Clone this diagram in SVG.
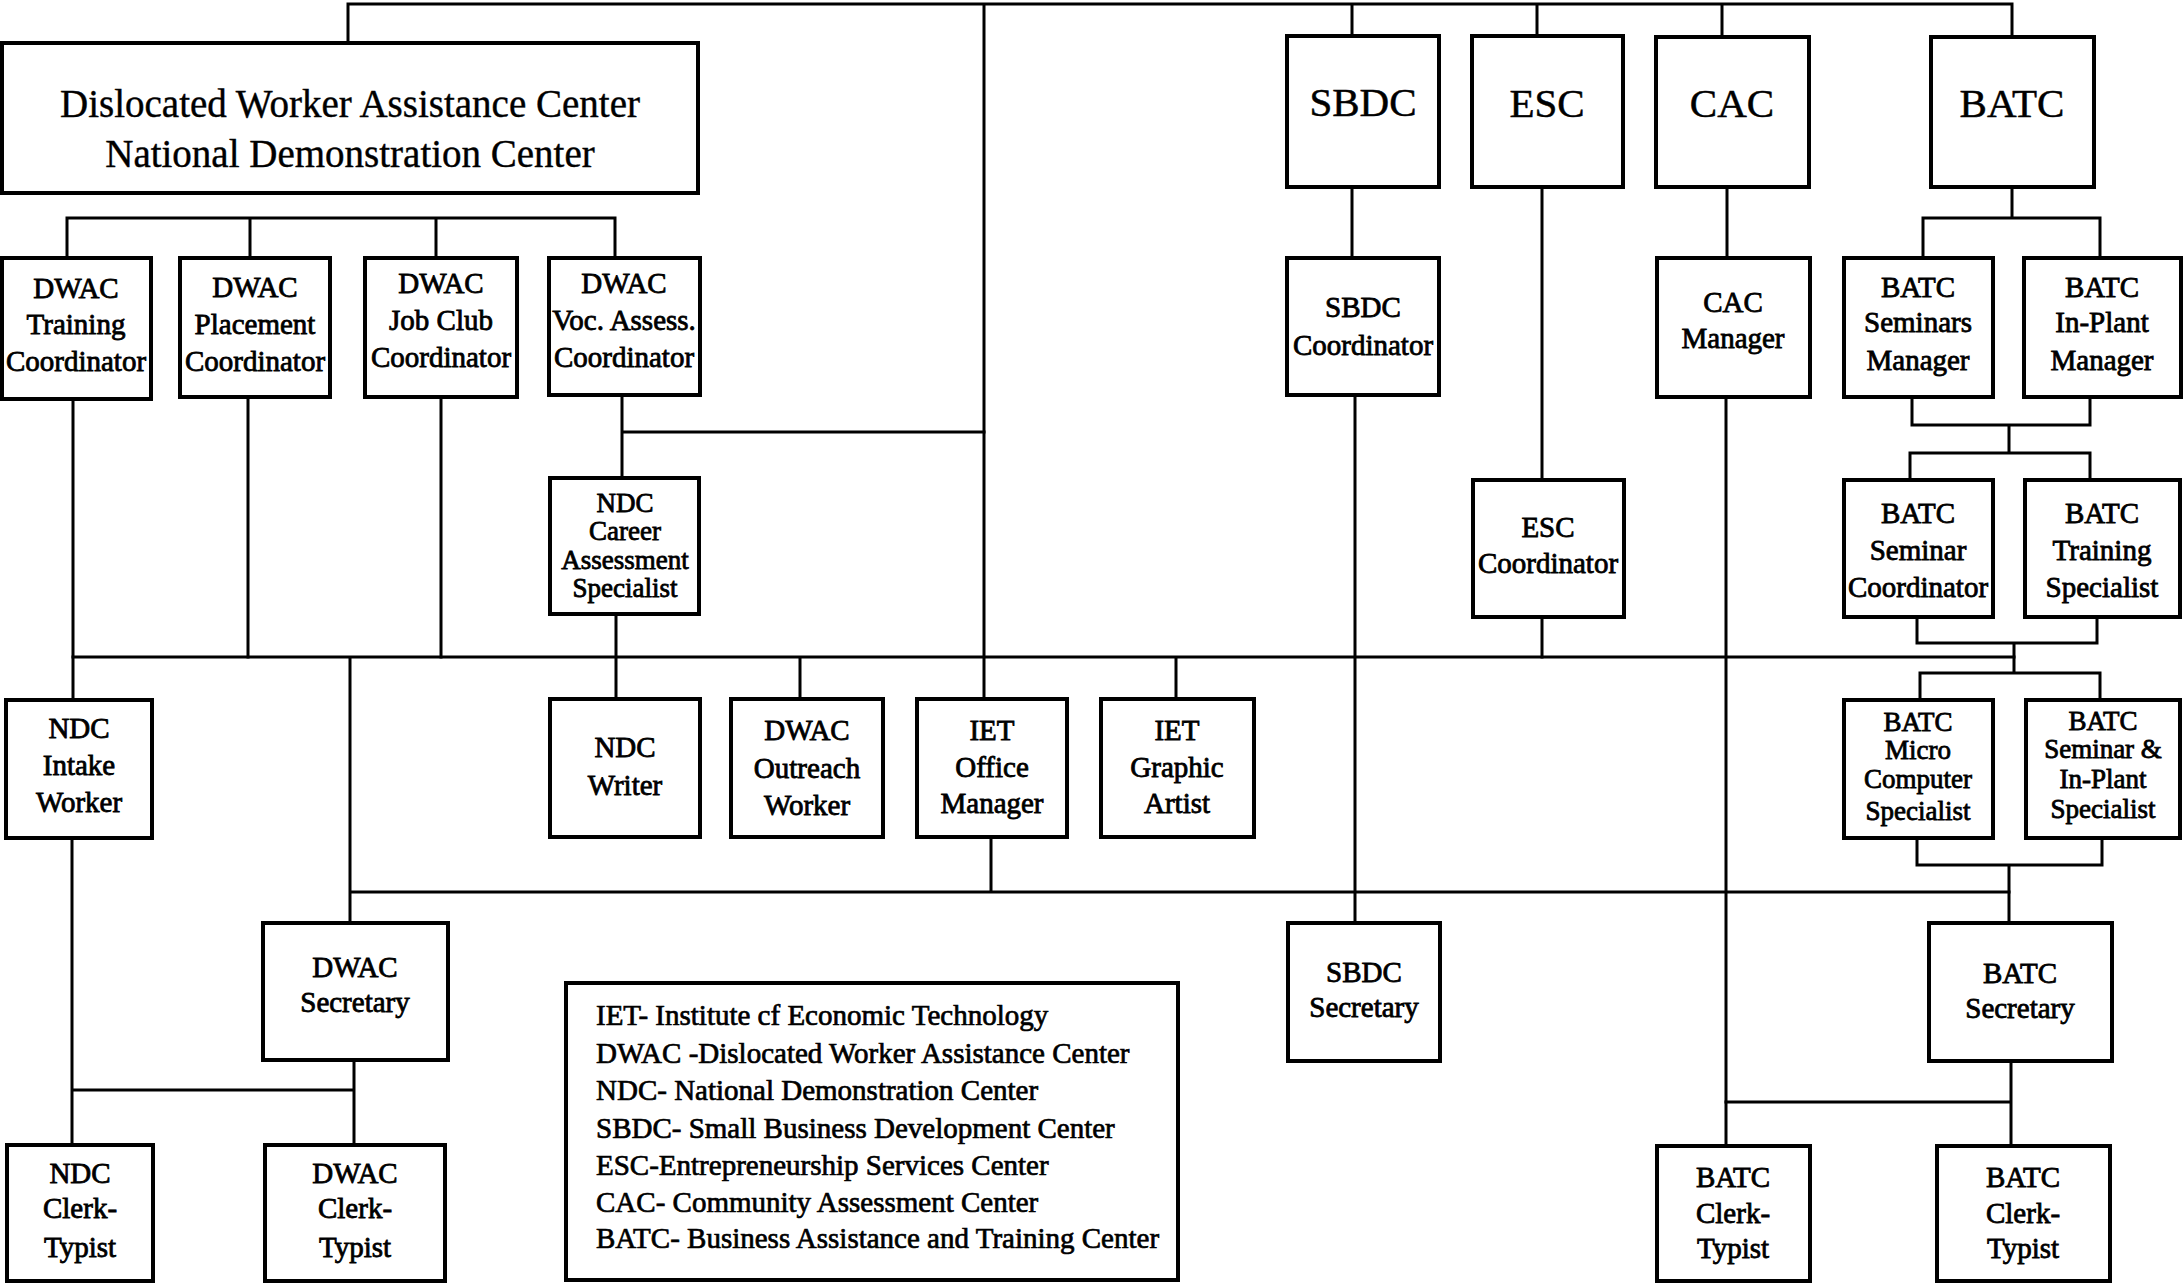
<svg xmlns="http://www.w3.org/2000/svg" width="2184" height="1283" viewBox="0 0 2184 1283">
<style>
.b{fill:#fff;stroke:#000;stroke-width:4}
.c{fill:none;stroke:#000;stroke-width:3;stroke-linecap:square}
text{font-family:"Liberation Serif","Times New Roman",serif;fill:#000}
.t{font-size:29px;text-anchor:middle;stroke:#000;stroke-width:0.8}
.s{font-size:27px}
.L{font-size:41px;text-anchor:middle;stroke:#000;stroke-width:0.5}
.T{font-size:39px;text-anchor:middle;stroke:#000;stroke-width:0.4}
.g{font-size:29px;stroke:#000;stroke-width:0.7}
</style>
<rect width="2184" height="1283" fill="#fff"/>
<g id="connectors" class="c">
<path d="M348 4H2012M348 4V43M984 4V699M1352 4V36M1537 4V36M1722 4V37M2012 4V37"/>
<path d="M67 218H615M67 218V258M250 218V258M436 218V258M615 218V258"/>
<path d="M73 399V700M248 397V657M441 397V657M622 395V478M622 432H984M616 614V699"/>
<path d="M73 657H2014M800 657V699M1176 657V699M350 657V923M991 837V892M350 892H2009"/>
<path d="M1352 187V258M1355 395V923M1542 187V480M1542 617V657M1727 187V258M1726 397V1146"/>
<path d="M2012 187V218M1923 218H2100M1923 218V258M2100 218V258"/>
<path d="M1912 397V425M2090 397V425M1912 425H2090M2009 425V453M1910 453H2090M1910 453V480M2090 453V480"/>
<path d="M1917 617V643M2097 617V643M1917 643H2097M2014 643V673M1920 673H2100M1920 673V700M2100 673V700"/>
<path d="M1917 838V865M2102 838V865M1917 865H2102M2009 865V923M2011 1061V1146M1726 1102H2011"/>
<path d="M72 838V1145M73 1090H354M354 1060V1145"/>
</g>
<g id="n-dwac-ndc"><rect class="b" x="2" y="43" width="696" height="150"/><text class="T" x="350" y="117">Dislocated Worker Assistance Center</text><text class="T" x="350" y="167">National Demonstration Center</text></g>
<g id="n-sbdc"><rect class="b" x="1287" y="36" width="152" height="151"/><text class="L" x="1363" y="116">SBDC</text></g>
<g id="n-esc"><rect class="b" x="1472" y="36" width="151" height="151"/><text class="L" x="1547" y="117">ESC</text></g>
<g id="n-cac"><rect class="b" x="1656" y="37" width="153" height="150"/><text class="L" x="1732" y="117">CAC</text></g>
<g id="n-batc"><rect class="b" x="1931" y="37" width="163" height="150"/><text class="L" x="2012" y="117">BATC</text></g>
<g id="n-training"><rect class="b" x="2" y="258" width="149" height="141"/><text class="t" x="76" y="298">DWAC</text><text class="t" x="76" y="334">Training</text><text class="t" x="76" y="371">Coordinator</text></g>
<g id="n-placement"><rect class="b" x="180" y="258" width="150" height="139"/><text class="t" x="255" y="297">DWAC</text><text class="t" x="255" y="334">Placement</text><text class="t" x="255" y="371">Coordinator</text></g>
<g id="n-jobclub"><rect class="b" x="365" y="258" width="152" height="139"/><text class="t" x="441" y="293">DWAC</text><text class="t" x="441" y="330">Job Club</text><text class="t" x="441" y="367">Coordinator</text></g>
<g id="n-voc"><rect class="b" x="549" y="258" width="151" height="137"/><text class="t" x="624" y="293">DWAC</text><text class="t" x="624" y="330">Voc. Assess.</text><text class="t" x="624" y="367">Coordinator</text></g>
<g id="n-sbdc-coord"><rect class="b" x="1287" y="258" width="152" height="137"/><text class="t" x="1363" y="317">SBDC</text><text class="t" x="1363" y="355">Coordinator</text></g>
<g id="n-cac-mgr"><rect class="b" x="1657" y="258" width="153" height="139"/><text class="t" x="1733" y="312">CAC</text><text class="t" x="1733" y="348">Manager</text></g>
<g id="n-batc-sem-mgr"><rect class="b" x="1844" y="258" width="149" height="139"/><text class="t" x="1918" y="297">BATC</text><text class="t" x="1918" y="332">Seminars</text><text class="t" x="1918" y="370">Manager</text></g>
<g id="n-batc-inplant-mgr"><rect class="b" x="2024" y="258" width="157" height="139"/><text class="t" x="2102" y="297">BATC</text><text class="t" x="2102" y="332">In-Plant</text><text class="t" x="2102" y="370">Manager</text></g>
<g id="n-career"><rect class="b" x="550" y="478" width="149" height="136"/><text class="t s" x="625" y="512">NDC</text><text class="t s" x="625" y="540">Career</text><text class="t s" x="625" y="569">Assessment</text><text class="t s" x="625" y="597">Specialist</text></g>
<g id="n-esc-coord"><rect class="b" x="1473" y="480" width="151" height="137"/><text class="t" x="1548" y="537">ESC</text><text class="t" x="1548" y="573">Coordinator</text></g>
<g id="n-batc-sem-coord"><rect class="b" x="1844" y="480" width="149" height="137"/><text class="t" x="1918" y="523">BATC</text><text class="t" x="1918" y="560">Seminar</text><text class="t" x="1918" y="597">Coordinator</text></g>
<g id="n-batc-train-spec"><rect class="b" x="2025" y="480" width="155" height="137"/><text class="t" x="2102" y="523">BATC</text><text class="t" x="2102" y="560">Training</text><text class="t" x="2102" y="597">Specialist</text></g>
<g id="n-intake"><rect class="b" x="6" y="700" width="146" height="138"/><text class="t" x="79" y="738">NDC</text><text class="t" x="79" y="775">Intake</text><text class="t" x="79" y="812">Worker</text></g>
<g id="n-writer"><rect class="b" x="550" y="699" width="150" height="138"/><text class="t" x="625" y="757">NDC</text><text class="t" x="625" y="795">Writer</text></g>
<g id="n-outreach"><rect class="b" x="731" y="699" width="152" height="138"/><text class="t" x="807" y="740">DWAC</text><text class="t" x="807" y="778">Outreach</text><text class="t" x="807" y="815">Worker</text></g>
<g id="n-office-mgr"><rect class="b" x="917" y="699" width="150" height="138"/><text class="t" x="992" y="740">IET</text><text class="t" x="992" y="777">Office</text><text class="t" x="992" y="813">Manager</text></g>
<g id="n-graphic"><rect class="b" x="1101" y="699" width="153" height="138"/><text class="t" x="1177" y="740">IET</text><text class="t" x="1177" y="777">Graphic</text><text class="t" x="1177" y="813">Artist</text></g>
<g id="n-batc-micro"><rect class="b" x="1844" y="700" width="149" height="138"/><text class="t s" x="1918" y="731">BATC</text><text class="t s" x="1918" y="759">Micro</text><text class="t s" x="1918" y="788">Computer</text><text class="t s" x="1918" y="820">Specialist</text></g>
<g id="n-batc-sem-inplant"><rect class="b" x="2026" y="700" width="154" height="138"/><text class="t s" x="2103" y="730">BATC</text><text class="t s" x="2103" y="758">Seminar &amp;</text><text class="t s" x="2103" y="788">In-Plant</text><text class="t s" x="2103" y="818">Specialist</text></g>
<g id="n-dwac-sec"><rect class="b" x="263" y="923" width="185" height="137"/><text class="t" x="355" y="977">DWAC</text><text class="t" x="355" y="1012">Secretary</text></g>
<g id="n-sbdc-sec"><rect class="b" x="1288" y="923" width="152" height="138"/><text class="t" x="1364" y="982">SBDC</text><text class="t" x="1364" y="1017">Secretary</text></g>
<g id="n-batc-sec"><rect class="b" x="1929" y="923" width="183" height="138"/><text class="t" x="2020" y="983">BATC</text><text class="t" x="2020" y="1018">Secretary</text></g>
<g id="n-ndc-clerk"><rect class="b" x="7" y="1145" width="146" height="136"/><text class="t" x="80" y="1183">NDC</text><text class="t" x="80" y="1218">Clerk-</text><text class="t" x="80" y="1257">Typist</text></g>
<g id="n-dwac-clerk"><rect class="b" x="265" y="1145" width="180" height="136"/><text class="t" x="355" y="1183">DWAC</text><text class="t" x="355" y="1218">Clerk-</text><text class="t" x="355" y="1257">Typist</text></g>
<g id="n-batc-clerk1"><rect class="b" x="1657" y="1146" width="153" height="135"/><text class="t" x="1733" y="1187">BATC</text><text class="t" x="1733" y="1223">Clerk-</text><text class="t" x="1733" y="1258">Typist</text></g>
<g id="n-batc-clerk2"><rect class="b" x="1937" y="1146" width="173" height="135"/><text class="t" x="2023" y="1187">BATC</text><text class="t" x="2023" y="1223">Clerk-</text><text class="t" x="2023" y="1258">Typist</text></g>
<g id="legend"><rect class="b" x="566" y="983" width="612" height="297"/>
<text class="g" x="596" y="1025">IET- Institute cf Economic Technology</text>
<text class="g" x="596" y="1063">DWAC -Dislocated Worker Assistance Center</text>
<text class="g" x="596" y="1100">NDC- National Demonstration Center</text>
<text class="g" x="596" y="1138">SBDC- Small Business Development Center</text>
<text class="g" x="596" y="1175">ESC-Entrepreneurship Services Center</text>
<text class="g" x="596" y="1212">CAC- Community Assessment Center</text>
<text class="g" x="596" y="1248">BATC- Business Assistance and Training Center</text>
</g>
</svg>
